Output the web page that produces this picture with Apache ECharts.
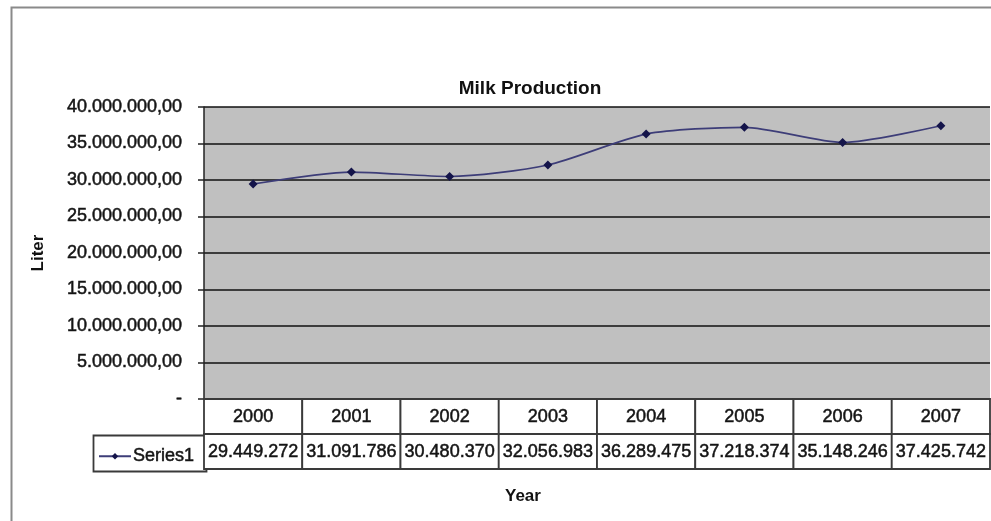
<!DOCTYPE html>
<html>
<head>
<meta charset="utf-8">
<script src="https://cdn.jsdelivr.net/npm/echarts@6/dist/echarts.min.js"></script>
<style>
  html, body { margin: 0; padding: 0; background: #fff; }
  #chart { width: 991px; height: 521px; }
</style>
</head>
<body>
<div id="chart"></div>
<script>
// Milk production per year, in liters
const years = ['2000', '2001', '2002', '2003', '2004', '2005', '2006', '2007'];
const milk = [29449272, 31091786, 30480370, 32056983, 36289475, 37218374, 35148246, 37425742];
const seriesName = 'Series1';

const FONT = "'Liberation Sans', Arial, sans-serif";
const INK = '#141414';

// 40000000 -> "40.000.000"
function groupDots(n) {
  return String(Math.round(n)).replace(/\B(?=(\d{3})+(?!\d))/g, '.');
}
function yLabel(v) {
  return v === 0 ? '-' : groupDots(v) + ',00';
}

// Data-table cells: a year header cell over a value cell, one column per category
function renderCell(params, api) {
  const i = api.value(0);
  const top = api.coord([i, 2]);
  const cx = top[0];
  const yTop = top[1];
  const yMid = api.coord([i, 1])[1];
  const yBot = api.coord([i, 0])[1];
  const w = api.size([1, 0])[0];
  const x0 = cx - w / 2;
  const cellStyle = { fill: '#ffffff', stroke: '#3a3a3a', lineWidth: 1.8 };
  const textStyle = { align: 'center', verticalAlign: 'middle', font: '18px ' + FONT,
    fill: INK, stroke: INK, lineWidth: 0.5 };
  return {
    type: 'group',
    children: [
      { type: 'rect', shape: { x: x0, y: yTop, width: w, height: yMid - yTop }, style: cellStyle },
      { type: 'rect', shape: { x: x0, y: yMid, width: w, height: yBot - yMid }, style: cellStyle },
      { type: 'text', x: cx, y: (yTop + yMid) / 2 + 1,
        style: Object.assign({ text: years[i] }, textStyle) },
      { type: 'text', x: cx, y: (yMid + yBot) / 2 + 1,
        style: Object.assign({ text: groupDots(api.value(1)) }, textStyle) }
    ]
  };
}

const chart = echarts.init(document.getElementById('chart'), null, { renderer: 'canvas' });

chart.setOption({
  animation: false,
  backgroundColor: '#ffffff',
  title: {
    text: 'Milk Production',
    left: 525,
    top: 74,
    textAlign: 'center',
    textStyle: { fontFamily: FONT, fontSize: 19, fontWeight: 'bold', color: '#111' }
  },
  legend: {
    data: [seriesName],
    left: 93,
    top: 442,
    itemWidth: 32,
    itemHeight: 8,
    itemGap: 4,
    textStyle: { fontFamily: FONT, fontSize: 18, color: INK, textBorderColor: INK, textBorderWidth: 0.5,
      padding: [0, 0, 0, -3] }
  },
  grid: [
    { left: 204, right: 1, top: 107, bottom: 122, show: true, backgroundColor: '#c0c0c0', borderWidth: 0 },
    { left: 204, right: 1, top: 399, height: 70, show: false }
  ],
  xAxis: [
    {
      type: 'category', gridIndex: 0, data: years, boundaryGap: true,
      axisLine: { show: true, lineStyle: { color: '#222', width: 1.5 } },
      axisTick: { show: false },
      axisLabel: { show: false }
    },
    {
      type: 'category', gridIndex: 1, data: years, boundaryGap: true,
      axisLine: { show: false }, axisTick: { show: false }, axisLabel: { show: false }
    }
  ],
  yAxis: [
    {
      type: 'value', gridIndex: 0, min: 0, max: 40000000, interval: 5000000,
      name: 'Liter', nameLocation: 'middle', nameRotate: 90, nameGap: 157,
      nameTextStyle: { fontFamily: FONT, fontSize: 17, fontWeight: 'bold', color: '#111' },
      axisLine: { show: true, lineStyle: { color: '#222', width: 1.5 } },
      axisTick: { show: true, length: 6, lineStyle: { color: '#222', width: 1.5 } },
      axisLabel: { formatter: yLabel, margin: 22, fontFamily: FONT, fontSize: 18, color: INK,
        textBorderColor: INK, textBorderWidth: 0.5 },
      splitLine: { show: true, lineStyle: { color: '#111', width: 1.7 } }
    },
    {
      type: 'value', gridIndex: 1, min: 0, max: 2, show: false
    }
  ],
  series: [
    {
      name: seriesName,
      type: 'line',
      xAxisIndex: 0, yAxisIndex: 0,
      data: milk,
      smooth: 0.25,
      symbol: 'diamond',
      symbolSize: 9,
      lineStyle: { color: '#3d3d78', width: 1.7 },
      itemStyle: { color: '#14144a' }
    },
    {
      name: 'table',
      type: 'custom',
      xAxisIndex: 1, yAxisIndex: 1,
      clip: false,
      silent: true,
      data: milk.map((v, i) => [i, v]),
      encode: { x: 0, y: 1 },
      renderItem: renderCell
    }
  ],
  graphic: [
    // outer chart frame
    { type: 'rect', left: 9, top: 5, shape: { width: 1100, height: 600 },
      style: { fill: 'none', stroke: '#8a8a8a', lineWidth: 2 }, z: 10 },
    // legend key cell of the data table
    { type: 'rect', left: 91, top: 433, shape: { width: 113, height: 36 },
      style: { fill: 'none', stroke: '#3a3a3a', lineWidth: 1.8 }, z: 0 },
    { type: 'text', left: 505, top: 488,
      style: { text: 'Year', font: 'bold 17px ' + FONT, fill: '#111' } }
  ]
});
</script>
</body>
</html>
